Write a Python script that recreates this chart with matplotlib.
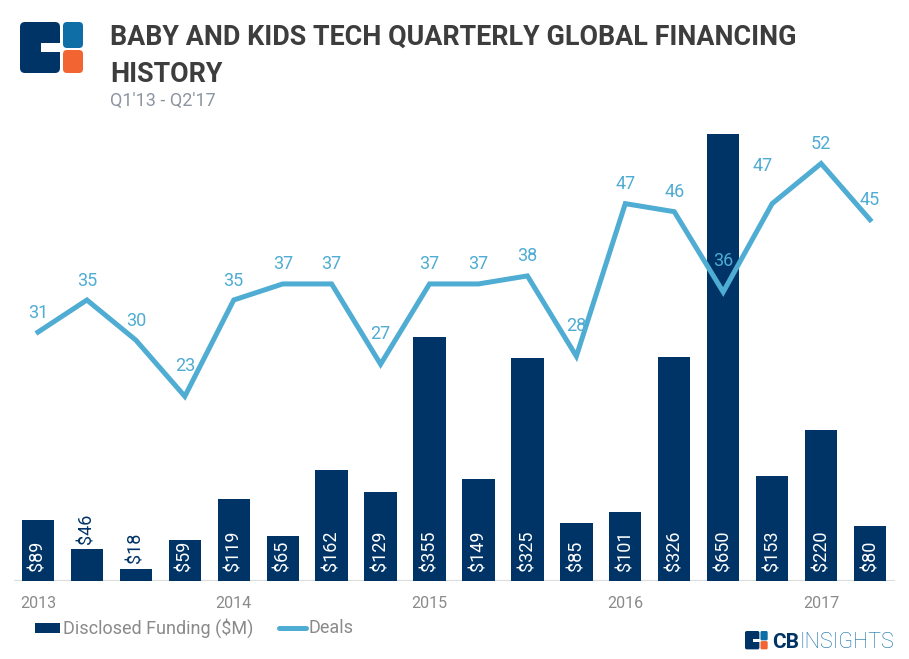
"""Baby and kids tech quarterly global financing history (CB Insights style)."""
import matplotlib
matplotlib.use("Agg")
import matplotlib.pyplot as plt
from matplotlib.patches import FancyBboxPatch, Rectangle

# data, Q1'13 .. Q2'17
quarters = ["Q1'13", "Q2'13", "Q3'13", "Q4'13", "Q1'14", "Q2'14", "Q3'14", "Q4'14",
            "Q1'15", "Q2'15", "Q3'15", "Q4'15", "Q1'16", "Q2'16", "Q3'16", "Q4'16",
            "Q1'17", "Q2'17"]
funding = [89, 46, 18, 59, 119, 65, 162, 129, 355, 149, 325, 85, 101, 326, 650, 153, 220, 80]
deals = [31, 35, 30, 23, 35, 37, 37, 27, 37, 37, 38, 28, 47, 46, 36, 47, 52, 45]
year_ticks = [0, 4, 8, 12, 16]
year_labels = ["2013", "2014", "2015", "2016", "2017"]

NAVY = "#003366"
LINE = "#4facd3"
GREY = "#8a8a8a"
TITLE = "#3d3d3d"
LOGO_BLUE = "#0f6ea6"
LOGO_ORANGE = "#f26532"

W, H = 909, 659
plt.rcParams["font.family"] = ["Roboto", "DejaVu Sans"]

fig = plt.figure(figsize=(W / 100, H / 100), dpi=100)

# main plot area in pixel terms
left, right, top, bottom = 13.5, 894.5, 133, 581
ax = fig.add_axes([left / W, 1 - bottom / H, (right - left) / W, (bottom - top) / H])
x = list(range(len(quarters)))
ax.bar(x, funding, width=0.66, color=NAVY, zorder=2)
ax.set_xlim(-0.5, len(quarters) - 0.5)
ax.set_ylim(0, 652)
px_per_m = (bottom - top) / 652
for xi, v in zip(x, funding):
    lab = f"${v}"
    if v * px_per_m > 38:
        ax.annotate(lab, (xi, 0), xytext=(0, 7), textcoords="offset points",
                    rotation=90, ha="center", va="bottom", color="white",
                    fontsize=13, zorder=3)
    else:
        ax.annotate(lab, (xi, v), xytext=(0, 4), textcoords="offset points",
                    rotation=90, ha="center", va="bottom", color=NAVY,
                    fontsize=13, zorder=3)

ax2 = ax.twinx()
ax2.plot(x, deals, color=LINE, linewidth=3.6, solid_joinstyle="miter", zorder=4)
ax2.set_ylim(0, 55.8)
for i, v in enumerate(deals):
    dx, dy = 0, 14
    if 0 < i < len(deals) - 1 and v < deals[i - 1] and v < deals[i + 1]:
        dy = 22
    if i == 15:
        dx, dy = -7, 27
    ax2.annotate(str(v), (i, v), xytext=(dx, dy), textcoords="offset points",
                 ha="center", va="center", color=LINE, fontsize=13, zorder=5)

for a in (ax, ax2):
    for s in a.spines.values():
        s.set_visible(False)
    a.set_yticks([])
ax.set_xticks(year_ticks)
ax.set_xticklabels(year_labels, fontsize=11.5, color=GREY)
ax.tick_params(axis="x", length=0, pad=11)
ax.axhline(0, color="#dddddd", linewidth=1.6, zorder=1)

# overlay in pixel coords for title, logos, legend
ov = fig.add_axes([0, 0, 1, 1], zorder=-1)
ov.set_xlim(0, W)
ov.set_ylim(H, 0)
ov.axis("off")


def logo(x0, y0, s):
    # s: scale, base logo is 62x51 px
    ov.add_patch(FancyBboxPatch((x0 + 2 * s, y0 + 2 * s), 36 * s, 47 * s,
                                boxstyle=f"round,pad={2 * s},rounding_size={5 * s}",
                                fc=NAVY, ec="none"))
    ov.add_patch(FancyBboxPatch((x0 + 45 * s, y0 + 2 * s), 16 * s, 22 * s,
                                boxstyle=f"round,pad={2 * s},rounding_size={4 * s}",
                                fc=LOGO_BLUE, ec="none"))
    ov.add_patch(FancyBboxPatch((x0 + 45 * s, y0 + 30 * s), 16 * s, 19 * s,
                                boxstyle=f"round,pad={2 * s},rounding_size={4 * s}",
                                fc=LOGO_ORANGE, ec="none"))
    ov.add_patch(Rectangle((x0 + 21 * s, y0 + 21 * s), 20 * s, 9 * s, fc="white", ec="none"))


logo(20, 22, 1.0)
ov.text(110, 45, "BABY AND KIDS TECH QUARTERLY GLOBAL FINANCING", fontsize=19.4,
        fontweight="bold", color=TITLE, ha="left", va="baseline")
ov.text(110, 82, "HISTORY", fontsize=19.4, fontweight="bold", color=TITLE,
        ha="left", va="baseline")
ov.text(110, 106, "Q1'13 - Q2'17", fontsize=13, color="#8c95a0", ha="left", va="baseline")

# legend
ov.add_patch(Rectangle((35, 623), 25, 10, fc=NAVY, ec="none"))
ov.text(63, 628, "Disclosed Funding ($M)", fontsize=13, color=GREY, ha="left", va="center")
ov.plot([279, 306], [628, 628], color=LINE, linewidth=3.6, solid_capstyle="round")
ov.text(309, 628, "Deals", fontsize=13, color=GREY, ha="left", va="center")

# CB Insights footer logo
logo(745, 631, 0.36)
ov.text(772, 648, "CB", fontsize=15, fontweight="bold", color=NAVY, ha="left", va="baseline")
ov.text(799, 648, "INSIGHTS", fontsize=15.5, fontweight="light", color=LOGO_BLUE,
        ha="left", va="baseline")

fig.savefig("out.png", dpi=100, facecolor="white")
